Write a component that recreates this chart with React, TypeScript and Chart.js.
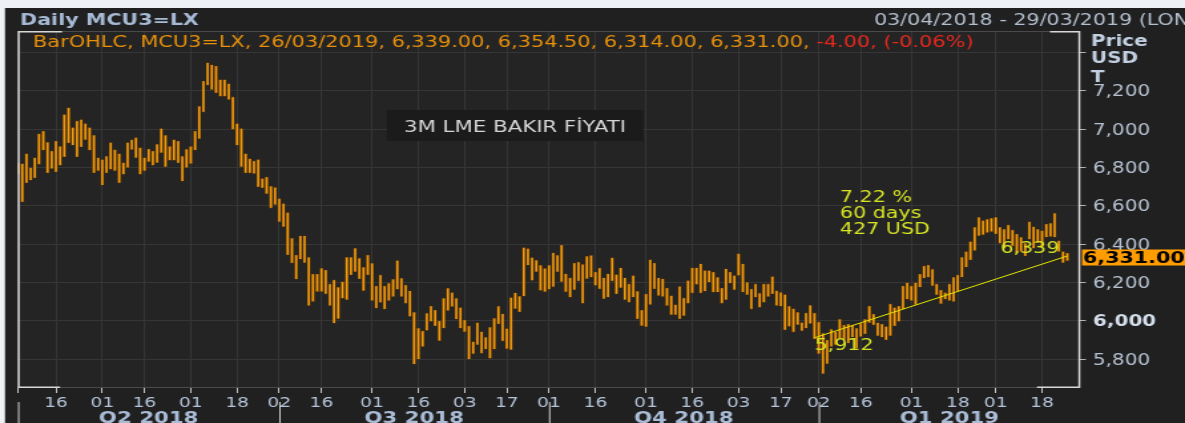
import React, { useEffect, useRef } from 'react';
import { Chart, registerables } from 'chart.js';

Chart.register(...registerables);

// Daily bars: index 0 = 03/04/2018 ... index 249 = 26/03/2019 (trading days)
const highs: number[] = [
  6825, 6821, 6873, 6800, 6852, 6977, 6991, 6932, 6887, 6939,
  6911, 7077, 7113, 7009, 7044, 7051, 7030, 7009, 6969, 6852,
  6842, 6859, 6931, 6894, 6873, 6826, 6931, 6946, 6957, 6904,
  6852, 6897, 6887, 6922, 7004, 6969, 6911, 6946, 6939, 6859,
  6896, 6911, 6991, 7120, 7252, 7348, 7337, 7330, 7259, 7259,
  7238, 7169, 7030, 7004, 6873, 6847, 6835, 6842, 6743, 6751,
  6703, 6697, 6639, 6613, 6566, 6431, 6344, 6444, 6444, 6332,
  6245, 6245, 6275, 6266, 6193, 6214, 6176, 6205, 6332, 6332,
  6379, 6327, 6280, 6344, 6301, 6183, 6240, 6183, 6197, 6218,
  6315, 6223, 6188, 6157, 6045, 5962, 5948, 6040, 6078, 6057,
  6000, 6118, 6171, 6148, 6118, 6070, 6005, 5974, 5892, 5991,
  5944, 5915, 5967, 6014, 6077, 6037, 5960, 6122, 6147, 6129,
  6383, 6378, 6331, 6317, 6291, 6274, 6291, 6356, 6343, 6396,
  6246, 6225, 6302, 6307, 6295, 6337, 6342, 6255, 6276, 6225,
  6246, 6330, 6242, 6277, 6225, 6193, 6237, 6155, 6057, 6141,
  6320, 6302, 6225, 6220, 6172, 6132, 6085, 6180, 6120, 6211,
  6277, 6277, 6298, 6263, 6263, 6255, 6228, 6172, 6272, 6255,
  6237, 6351, 6298, 6202, 6167, 6193, 6145, 6193, 6193, 6232,
  6158, 6149, 6138, 6077, 6064, 6045, 5992, 6042, 6082, 6042,
  5995, 5936, 5901, 5957, 5944, 6009, 5979, 5984, 5979, 5962,
  5988, 6009, 6078, 6036, 5991, 5984, 5971, 6089, 6070, 6078,
  6183, 6200, 6183, 6200, 6245, 6287, 6292, 6270, 6193, 6162,
  6148, 6193, 6228, 6240, 6332, 6362, 6414, 6489, 6541, 6524,
  6531, 6536, 6541, 6489, 6478, 6501, 6475, 6454, 6437, 6405,
  6518, 6492, 6478, 6471, 6506, 6510, 6562, 6419, 6362, 6354.5,
];

const lows: number[] = [
  6765, 6621, 6720, 6734, 6746, 6817, 6891, 6772, 6795, 6777,
  6812, 6856, 6929, 6917, 6856, 6908, 6946, 6891, 6772, 6783,
  6708, 6772, 6791, 6783, 6720, 6765, 6800, 6894, 6852, 6765,
  6783, 6830, 6812, 6826, 6878, 6804, 6838, 6838, 6824, 6729,
  6800, 6821, 6891, 6951, 7090, 7230, 7207, 7190, 7172, 7172,
  7155, 7000, 6917, 6804, 6772, 6772, 6769, 6699, 6694, 6664,
  6589, 6607, 6518, 6492, 6344, 6302, 6218, 6322, 6304, 6080,
  6101, 6153, 6153, 6141, 6080, 5988, 6011, 6118, 6110, 6240,
  6257, 6219, 6158, 6240, 6106, 6066, 6096, 6061, 6106, 6127,
  6165, 6127, 6092, 6023, 5774, 5800, 5866, 5950, 5997, 5974,
  5897, 5962, 6054, 6075, 6009, 5962, 5944, 5800, 5828, 5875,
  5831, 5852, 5805, 5852, 5984, 5895, 5855, 5850, 6064, 6047,
  6129, 6291, 6211, 6256, 6159, 6152, 6165, 6178, 6256, 6204,
  6152, 6124, 6162, 6208, 6092, 6220, 6228, 6185, 6167, 6115,
  6124, 6208, 6141, 6173, 6110, 6097, 6124, 6010, 5975, 5970,
  6085, 6167, 6132, 6127, 6080, 6032, 6032, 6010, 6027, 6092,
  6145, 6190, 6145, 6155, 6202, 6150, 6150, 6092, 6110, 6197,
  6162, 6237, 6150, 6137, 6062, 6124, 6071, 6097, 6127, 6141,
  6080, 6077, 5953, 5971, 5942, 5980, 5949, 5962, 5986, 5905,
  5829, 5724, 5776, 5866, 5875, 5910, 5901, 5884, 5915, 5857,
  5918, 5932, 5991, 5979, 5922, 5915, 5901, 5922, 5974, 5997,
  6061, 6113, 6106, 6084, 6176, 6223, 6228, 6183, 6136, 6089,
  6113, 6106, 6101, 6153, 6228, 6280, 6318, 6367, 6444, 6449,
  6461, 6466, 6454, 6405, 6379, 6426, 6391, 6353, 6362, 6339,
  6426, 6379, 6409, 6384, 6437, 6440, 6437, 6362, 6304, 6314,
];

const xTickIndex = [0, 9, 20, 30, 41, 52, 62, 72, 84, 95, 106, 116, 126, 137, 149, 160, 171, 181, 190, 200, 212, 223, 232, 243];
const xTickLabels = ['', '16', '01', '16', '01', '18', '02', '16', '01', '16', '03', '17', '01', '16', '01', '16', '03', '17', '02', '16', '01', '18', '01', '18'];
const quarterStart = [0, 62, 126, 190];
const quarterLabels = ['Q2 2018', 'Q3 2018', 'Q4 2018', 'Q1 2019'];
const axisEndIndex = 252; // 29/03/2019
const yTickValues = [5800, 6000, 6200, 6400, 6600, 6800, 7000, 7200, 7400];
const yMin = 5650;
const yMax = 7513;
const trendFrom = { index: 189, value: 5912 };
const trendTo = { index: 249, value: 6339 };
const statsLines = ['7.22 %', '60 days', '427 USD'];
const lastBar = { date: '26/03/2019', open: 6339, high: 6354.5, low: 6314, close: 6331, change: -4, changePct: -0.06 };

const S = 1.33; // horizontal stretch of the original picture
const FULL_W = 1185;
const H = 423;
const W = Math.round(FULL_W / S);
const X = (px: number) => px / S;
const FONT = '"DejaVu Sans", Verdana, sans-serif';

const fmt2 = (n: number) => n.toLocaleString('en-US', { minimumFractionDigits: 2, maximumFractionDigits: 2 });
const fmt0 = (n: number) => n.toLocaleString('en-US', { maximumFractionDigits: 0 });

function text(ctx: CanvasRenderingContext2D, s: string, x: number, y: number, font: string, color: string, align: CanvasTextAlign = 'left') {
  ctx.font = font;
  ctx.fillStyle = color;
  ctx.textAlign = align;
  ctx.textBaseline = 'alphabetic';
  ctx.fillText(s, x, y);
}

const overlay = {
  id: 'overlay',
  beforeDraw(chart: any) {
    const { ctx, width, height, chartArea: a } = chart;
    ctx.save();
    ctx.fillStyle = '#eef2f7';
    ctx.fillRect(0, 0, width, height);
    ctx.fillStyle = '#202020';
    ctx.fillRect(X(5), 8, width, height);
    ctx.fillStyle = '#242424';
    ctx.fillRect(a.left, a.top, a.right - a.left, a.bottom - a.top);
    ctx.restore();
  },
  afterDraw(chart: any) {
    const { ctx, chartArea: a, width } = chart;
    const xs = chart.scales.x;
    const ys = chart.scales.y;
    ctx.save();

    // frame
    ctx.lineWidth = 1;
    ctx.strokeStyle = '#4a4a4a';
    ctx.beginPath();
    ctx.moveTo(a.left, a.top + 0.5); ctx.lineTo(a.right, a.top + 0.5);
    ctx.moveTo(a.left, a.bottom - 0.5); ctx.lineTo(a.right, a.bottom - 0.5);
    ctx.stroke();
    ctx.strokeStyle = '#d8d8d8';
    ctx.lineWidth = 1.5;
    ctx.beginPath();
    ctx.moveTo(a.left + 0.5, a.top); ctx.lineTo(a.left + 0.5, a.bottom);
    ctx.moveTo(a.right - 0.5, a.top); ctx.lineTo(a.right - 0.5, a.bottom);
    ctx.moveTo(a.left, a.top + 0.75); ctx.lineTo(a.left + X(44), a.top + 0.75);
    ctx.moveTo(a.right, a.top + 0.75); ctx.lineTo(a.right - X(30), a.top + 0.75);
    ctx.moveTo(a.left, a.bottom - 0.75); ctx.lineTo(a.left + X(42), a.bottom - 0.75);
    ctx.moveTo(a.right, a.bottom - 0.75); ctx.lineTo(a.right - X(43), a.bottom - 0.75);
    ctx.stroke();

    // y labels
    yTickValues.forEach((v) => {
      if (v === 7400) return;
      const y = ys.getPixelForValue(v);
      const bold = v === 6000;
      text(ctx, fmt0(v), X(1093), y + 5.5, `${bold ? 'bold ' : ''}15px ${FONT}`, bold ? '#d4deea' : '#b6c2d2');
    });
    text(ctx, 'Price', X(1091), 46, `bold 15px ${FONT}`, '#c2d0e2');
    text(ctx, 'USD', X(1091), 63, `bold 15px ${FONT}`, '#c2d0e2');
    text(ctx, 'T', X(1091), 82, `bold 15px ${FONT}`, '#c2d0e2');

    // x labels
    xTickIndex.forEach((idx, i) => {
      const lbl = xTickLabels[i];
      if (!lbl) return;
      text(ctx, lbl, xs.getPixelForValue(idx), 407, `14px ${FONT}`, '#b4c4da', 'center');
    });

    // quarters
    ctx.strokeStyle = '#d0d0d0';
    ctx.lineWidth = 1;
    quarterStart.forEach((q, i) => {
      const px = xs.getPixelForValue(q);
      ctx.beginPath();
      ctx.moveTo(px + 0.5, 402); ctx.lineTo(px + 0.5, H);
      ctx.stroke();
      const end = i + 1 < quarterStart.length ? quarterStart[i + 1] : axisEndIndex;
      const cx = xs.getPixelForValue((q + end) / 2);
      text(ctx, quarterLabels[i], cx, 423, `bold 16px ${FONT}`, '#a9bcd6', 'center');
    });

    // header
    text(ctx, 'Daily MCU3=LX', X(20), 25, `bold 15.5px ${FONT}`, '#a6bad4');
    text(ctx, '03/04/2018 - 29/03/2019 (LONDON)', X(874), 25, `15.5px ${FONT}`, '#b4c0d0');

    // legend line
    const legA = `BarOHLC, MCU3=LX, ${lastBar.date}, ${fmt2(lastBar.open)}, ${fmt2(lastBar.high)}, ${fmt2(lastBar.low)}, ${fmt2(lastBar.close)}, `;
    const legB = `${lastBar.change.toFixed(2)}, (${lastBar.changePct.toFixed(2)}%)`;
    ctx.font = `15.7px ${FONT}`;
    const wA = ctx.measureText(legA).width;
    text(ctx, legA, X(33), 47, `15.7px ${FONT}`, '#e8900a');
    text(ctx, legB, X(33) + wA, 47, `15.7px ${FONT}`, '#e8281e');

    // title box
    ctx.fillStyle = '#1b1b1b';
    ctx.fillRect(X(387), 110, X(643) - X(387), 31);
    text(ctx, '3M LME BAKIR FİYATI', X(515), 132, `16px ${FONT}`, '#d6d6d6', 'center');

    // trend line
    const x1 = xs.getPixelForValue(trendFrom.index);
    const y1 = ys.getPixelForValue(trendFrom.value);
    const x2 = xs.getPixelForValue(trendTo.index);
    const y2 = ys.getPixelForValue(trendTo.value);
    ctx.strokeStyle = '#e6e600';
    ctx.lineWidth = 1;
    ctx.beginPath();
    ctx.moveTo(x1, y1); ctx.lineTo(x2, y2);
    ctx.stroke();
    const yel = '#d6e424';
    text(ctx, fmt0(trendFrom.value), x1, y1 + 12, `15.5px ${FONT}`, yel);
    text(ctx, fmt0(trendTo.value), x2 - X(8), y2 - 3, `15.5px ${FONT}`, yel, 'right');
    statsLines.forEach((s, i) => {
      text(ctx, s, X(840), 202 + i * 16, `15.5px ${FONT}`, yel);
    });

    // last price box
    const py = ys.getPixelForValue(lastBar.close);
    ctx.fillStyle = '#ff9c00';
    ctx.fillRect(X(1082), py - 8, width - X(1082), 16);
    text(ctx, fmt2(lastBar.close), X(1083), py + 5.5, `bold 15.5px ${FONT}`, '#000000');

    ctx.restore();
  },
};

export default function App() {
  const ref = useRef<HTMLCanvasElement | null>(null);

  useEffect(() => {
    document.body.style.margin = '0';
    const canvas = ref.current;
    if (!canvas) return;
    const data = lows.map((l, i) => ({ x: i, y: [l, highs[i]] }));
    const chart = new Chart(canvas, {
      type: 'bar',
      data: {
        datasets: [
          {
            data: data as any,
            backgroundColor: '#f09a10',
            borderColor: 'rgba(125,72,0,0.85)',
            borderWidth: 0.6,
            borderSkipped: false,
            barThickness: 2.8 / S,
          },
        ],
      },
      options: {
        animation: false,
        responsive: false,
        maintainAspectRatio: false,
        layout: { padding: { left: X(18), top: 31, right: 0, bottom: 0 } },
        plugins: { legend: { display: false }, tooltip: { enabled: false } },
        scales: {
          x: {
            type: 'linear',
            min: 0,
            max: axisEndIndex,
            offset: false,
            afterBuildTicks: (s: any) => {
              s.ticks = xTickIndex.map((v) => ({ value: v }));
            },
            afterFit: (s: any) => {
              s.height = H - 388;
            },
            grid: { color: '#363636', offset: false, tickColor: '#c4c4c4', tickLength: 5, lineWidth: 1 },
            border: { display: false },
            ticks: { display: false },
          },
          y: {
            type: 'linear',
            position: 'right',
            min: yMin,
            max: yMax,
            beginAtZero: false,
            afterBuildTicks: (s: any) => {
              s.ticks = yTickValues.map((v) => ({ value: v }));
            },
            afterFit: (s: any) => {
              s.width = W - X(1080);
            },
            grid: { color: '#363636', tickColor: '#b0b0b0', tickLength: X(6), lineWidth: 1 },
            border: { display: false },
            ticks: { display: false },
          },
        },
      },
      plugins: [overlay],
    });
    return () => chart.destroy();
  }, []);

  return (
    <div style={{ position: 'absolute', left: 0, top: 0, width: FULL_W, height: H, overflow: 'hidden' }}>
      <div style={{ width: W, height: H, transform: `scaleX(${FULL_W / W})`, transformOrigin: '0 0' }}>
        <canvas ref={ref} width={W} height={H} style={{ display: 'block', width: W, height: H }} />
      </div>
    </div>
  );
}
